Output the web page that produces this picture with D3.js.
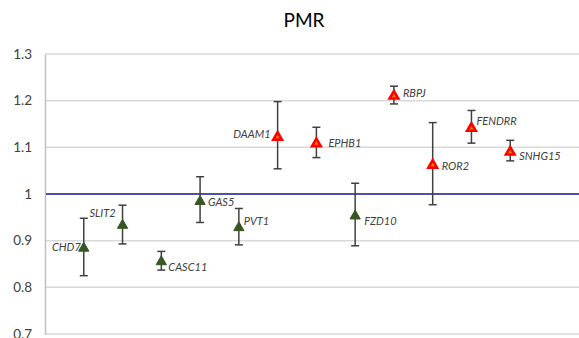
<!DOCTYPE html>
<html>
<head>
<meta charset="utf-8">
<script src="https://cdn.jsdelivr.net/npm/d3@7"></script>
<style>
  body { margin: 0; background: #fff; }
  svg { display: block; font-family: Lato, "Open Sans", sans-serif; }
</style>
</head>
<body>
<svg id="chart" width="579" height="338"></svg>
<script>
// genes, in the order they sit on the x axis
let genes = ["CHD7", "SLIT2", "CASC11", "GAS5", "PVT1", "DAAM1", "EPHB1", "FZD10", "RBPJ", "ROR2", "FENDRR", "SNHG15"];
let pmr   = [0.886, 0.935, 0.857, 0.986, 0.930, 1.124, 1.110, 0.955, 1.212, 1.064, 1.143, 1.092];
let lower = [0.825, 0.893, 0.837, 0.939, 0.891, 1.054, 1.078, 0.889, 1.193, 0.977, 1.109, 1.071];
let upper = [0.948, 0.976, 0.877, 1.037, 0.969, 1.198, 1.143, 1.023, 1.231, 1.153, 1.179, 1.115];
let yTicks = [0.7, 0.8, 0.9, 1, 1.1, 1.2, 1.3];

const svg = d3.select("svg#chart");
const W = +svg.attr("width");

const x = d3.scaleLinear().domain([0, genes.length + 1]).range([45, 549]);
const y = d3.scaleLinear().domain([0.7, 1.3]).range([334, 54]);

// title
svg.append("text")
  .attr("x", 304).attr("y", 27)
  .attr("text-anchor", "middle")
  .attr("font-size", "19px")
  .attr("fill", "#000")
  .text("PMR");

// gridlines
svg.append("g").selectAll("line").data(yTicks).join("line")
  .attr("x1", 45).attr("x2", W)
  .attr("y1", d => y(d)).attr("y2", d => y(d))
  .attr("stroke", "#d9d9d9")
  .attr("stroke-width", 1.5);

// y axis
const yAxis = d3.axisLeft(y).tickValues(yTicks).tickSize(0).tickPadding(13)
  .tickFormat(d => d3.format("")(+d.toFixed(1)));
const ga = svg.append("g").attr("transform", "translate(45,0)").call(yAxis);
ga.select(".domain").attr("stroke", "#bfbfbf").attr("stroke-width", 1.5);
ga.selectAll("text").attr("font-size", "13.5px").attr("fill", "#404040").attr("font-family", "Lato, sans-serif");

// reference line at 1
svg.append("line")
  .attr("x1", 46).attr("x2", W)
  .attr("y1", y(1)).attr("y2", y(1))
  .attr("stroke", "#1f1f8f")
  .attr("stroke-width", 1.3);

const idx = d3.range(genes.length);

// error bars
const eb = svg.append("g").attr("stroke", "#404040").attr("stroke-width", 1.5);
eb.selectAll("line.v").data(idx).join("line").attr("class", "v")
  .attr("x1", i => x(i + 1)).attr("x2", i => x(i + 1))
  .attr("y1", i => y(upper[i])).attr("y2", i => y(lower[i]));
eb.selectAll("line.t").data(idx).join("line").attr("class", "t")
  .attr("x1", i => x(i + 1) - 4).attr("x2", i => x(i + 1) + 4)
  .attr("y1", i => y(upper[i])).attr("y2", i => y(upper[i]));
eb.selectAll("line.b").data(idx).join("line").attr("class", "b")
  .attr("x1", i => x(i + 1) - 4).attr("x2", i => x(i + 1) + 4)
  .attr("y1", i => y(lower[i])).attr("y2", i => y(lower[i]));

// markers: below 1 green, above 1 red
svg.append("g").selectAll("path").data(idx).join("path")
  .attr("transform", i => "translate(" + x(i + 1) + "," + (y(pmr[i]) + 1) + ")")
  .attr("d", i => d3.symbol().type(d3.symbolTriangle).size(pmr[i] < 1 ? 46 : 32)())
  .attr("fill", i => pmr[i] < 1 ? "#375623" : "#ff7a00")
  .attr("stroke", i => pmr[i] < 1 ? "#375623" : "#ff0000")
  .attr("stroke-width", i => pmr[i] < 1 ? 1 : 2.6)
  .attr("stroke-linejoin", "miter");

// label nudges [dx, dy, anchor]
const labelPos = [
  [-3, 0, "end"], [-7, -11, "end"], [7, 6, "start"], [8, 2, "start"],
  [5, -6, "start"], [-7, -2, "end"], [12, 0, "start"], [9, 6, "start"],
  [9, -2, "start"], [9, 2, "start"], [5, -6, "start"], [9, 5, "start"]
];
svg.append("g").selectAll("text").data(idx).join("text")
  .attr("x", i => x(i + 1) + labelPos[i][0])
  .attr("y", i => y(pmr[i]) + labelPos[i][1])
  .attr("dy", "0.35em")
  .attr("text-anchor", i => labelPos[i][2])
  .attr("font-size", "11px")
  .attr("font-style", "italic")
  .attr("fill", "#404040")
  .text(i => genes[i]);
</script>
</body>
</html>
